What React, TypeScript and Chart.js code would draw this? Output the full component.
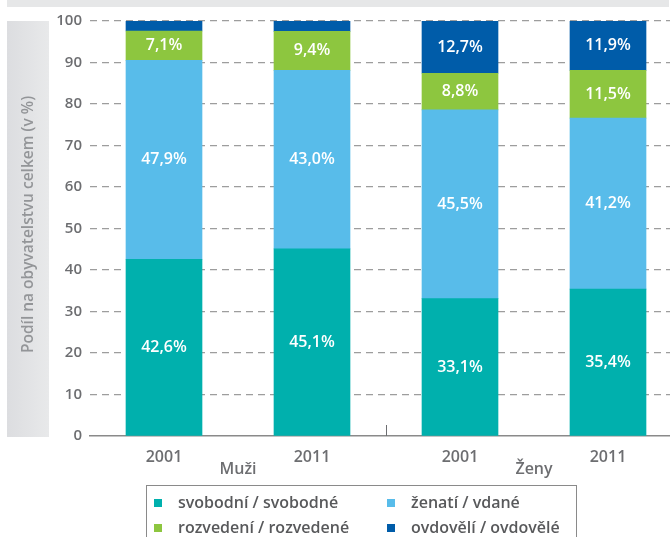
import { useEffect, useRef } from 'react';
import { Chart, registerables } from 'chart.js';

Chart.register(...registerables);

const categories = ['2001', '2011', '2001', '2011'];
const groupLabels = ['Muži', 'Ženy'];
const seriesNames = ['svobodní / svobodné', 'ženatí / vdané', 'rozvedení / rozvedené', 'ovdovělí / ovdovělé'];
const svobodni = [42.6, 45.1, 33.1, 35.4];
const zenati = [47.9, 43.0, 45.5, 41.2];
const rozvedeni = [7.1, 9.4, 8.8, 11.5];
const ovdoveli = [2.4, 2.5, 12.7, 11.9];
const yTicks = [0, 10, 20, 30, 40, 50, 60, 70, 80, 90, 100];
const yTitle = 'Podíl na obyvatelstvu celkem (v %)';

const colors = ['#00b0ad', '#58bcea', '#8dc63f', '#005ca9'];
const FONT = '"Open Sans", "Noto Sans", sans-serif';
const TEXT = '#6d6e71';

const fmt = (v: number) => v.toFixed(1).replace('.', ',') + '%';

const decor = {
  id: 'decor',
  beforeDraw(chart: any) {
    const ctx = chart.ctx;
    const { top, bottom } = chart.chartArea;
    ctx.save();
    ctx.fillStyle = '#e6e7e8';
    ctx.fillRect(7, 0, 662, 7);
    const g = ctx.createLinearGradient(7, 0, 49, 0);
    g.addColorStop(0, '#dcdde0');
    g.addColorStop(1, '#e8e9ea');
    ctx.fillStyle = g;
    ctx.fillRect(7, top, 42, bottom - top + 1);
    ctx.translate(29, (top + bottom) / 2 - 4);
    ctx.rotate(-Math.PI / 2);
    ctx.fillStyle = '#939598';
    ctx.font = `600 15.5px ${FONT}`;
    ctx.textAlign = 'center';
    ctx.textBaseline = 'middle';
    ctx.fillText(yTitle, 0, 0);
    ctx.restore();
  },
  afterDatasetsDraw(chart: any) {
    const ctx = chart.ctx;
    ctx.save();
    ctx.fillStyle = '#ffffff';
    ctx.font = `600 16px ${FONT}`;
    ctx.textAlign = 'center';
    ctx.textBaseline = 'middle';
    chart.data.datasets.forEach((ds: any, di: number) => {
      const meta = chart.getDatasetMeta(di);
      meta.data.forEach((el: any, i: number) => {
        const v = ds.data[i];
        if (v < 5) return;
        ctx.fillText(fmt(v), el.x, (el.y + el.base) / 2);
      });
    });
    ctx.restore();
  },
  afterDraw(chart: any) {
    const ctx = chart.ctx;
    const xs = chart.scales.x;
    const bottom = chart.chartArea.bottom;
    ctx.save();
    ctx.fillStyle = TEXT;
    ctx.font = `600 16px ${FONT}`;
    ctx.textAlign = 'center';
    ctx.textBaseline = 'middle';
    groupLabels.forEach((lab, gi) => {
      const x = (xs.getPixelForValue(gi * 2) + xs.getPixelForValue(gi * 2 + 1)) / 2;
      ctx.fillText(lab, x, 469);
    });
    const dx = Math.round((xs.getPixelForValue(1) + xs.getPixelForValue(2)) / 2) + 0.5;
    ctx.strokeStyle = '#6d6e71';
    ctx.lineWidth = 1;
    ctx.beginPath();
    ctx.moveTo(dx, bottom - 11);
    ctx.lineTo(dx, bottom);
    ctx.stroke();
    ctx.strokeStyle = '#8a8a8a';
    ctx.lineWidth = 1;
    ctx.strokeRect(146.5, 485.5, 430, 80);
    const colX = [154, 387];
    const rowY = [503, 528];
    ctx.textAlign = 'left';
    ctx.font = `600 16px ${FONT}`;
    chart.data.datasets.forEach((ds: any, i: number) => {
      const cx = colX[i % 2];
      const cy = rowY[Math.floor(i / 2)];
      ctx.fillStyle = ds.backgroundColor;
      ctx.fillRect(cx, cy - 4, 8, 8);
      ctx.fillStyle = '#58595b';
      ctx.fillText(ds.label, cx + 24, cy);
    });
    ctx.restore();
  },
};

export default function App() {
  const ref = useRef<HTMLCanvasElement>(null);
  useEffect(() => {
    if (!ref.current) return;
    const series = [svobodni, zenati, rozvedeni, ovdoveli];
    const chart = new Chart(ref.current, {
      type: 'bar',
      data: {
        labels: categories,
        datasets: series.map((d, i) => ({
          label: seriesNames[i],
          data: d,
          backgroundColor: colors[i],
          barThickness: 76,
          borderWidth: 0,
        })),
      },
      options: {
        responsive: false,
        animation: false,
        devicePixelRatio: 1,
        layout: { padding: { top: 21, bottom: 0, left: 0, right: 0 } },
        plugins: { legend: { display: false }, tooltip: { enabled: false } },
        scales: {
          x: {
            stacked: true,
            grid: { display: false },
            border: { display: true, color: '#8a8a8a', width: 1.5 },
            ticks: { color: TEXT, font: { family: FONT, size: 16, weight: '600' }, padding: 4 },
            afterFit: (s: any) => { s.height = 101; },
          },
          y: {
            stacked: true,
            min: 0,
            max: 100,
            afterBuildTicks: (s: any) => { s.ticks = yTicks.map((v) => ({ value: v })); },
            grid: {
              drawTicks: false,
              lineWidth: 1.3,
              color: (c: any) => (c.tick && c.tick.value === 0 ? 'rgba(0,0,0,0)' : '#9d9d9d'),
            },
            border: { display: false, dash: [7, 5] },
            ticks: { color: TEXT, font: { family: FONT, size: 15, weight: '600' }, padding: 8 },
            afterFit: (s: any) => { s.width = 90; },
          },
        },
      },
      plugins: [decor],
    });
    return () => chart.destroy();
  }, []);
  return (
    <div style={{ position: 'fixed', left: 0, top: 0, width: 670, height: 537, overflow: 'hidden', background: '#fff' }}>
      <canvas ref={ref} width={682} height={537} style={{ display: 'block' }} />
    </div>
  );
}
